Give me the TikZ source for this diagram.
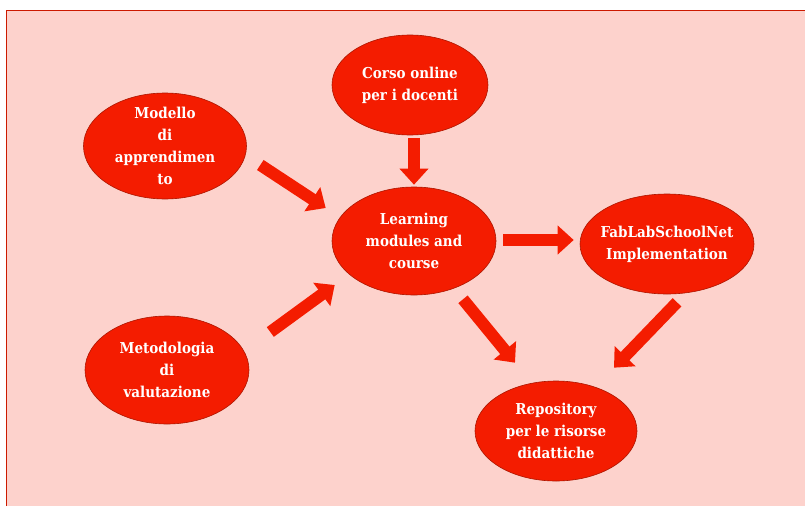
\documentclass[tikz,border=0pt]{standalone}
\usepackage{fontspec}
\newfontfamily\bubblefont{DejaVu Serif Condensed Bold}
\usetikzlibrary{shapes.geometric,arrows.meta}

\definecolor{bg}{HTML}{FDD2CC}
\definecolor{bubblered}{HTML}{F41C00}
\definecolor{edgered}{HTML}{CC1A00}

\begin{document}
\begin{tikzpicture}[x=1pt,y=-1pt,
    bubble/.style={ellipse,fill=bubblered,draw=edgered!85!black,line width=0.6pt,
      inner sep=0pt,text=white,align=center,
      font=\bubblefont\fontsize{15}{22}\selectfont},
    fatarrow/.style={draw=bubblered,line width=12pt,
      -{Triangle[width=28pt,length=16pt]}}]
    \useasboundingbox (0,0) rectangle (805,506);
    \fill[bg] (6,10) rectangle (805,506);
    \draw[edgered,line width=1pt] (6,506) -- (6,10) -- (805,10);

    \node[bubble,minimum width=163,minimum height=106,inner ysep=-8pt] (modello) at (165,146) {Modello\\di\\apprendimen\\to};
    \node[bubble,minimum width=156,minimum height=100] (corso)       at (410,85)  {Corso online\\per i docenti};
    \node[bubble,minimum width=164,minimum height=108] (learning)    at (414,241) {Learning\\modules and\\course};
    \node[bubble,minimum width=174,minimum height=100,inner xsep=-15pt] (fablab) at (667,244) {FabLabSchoolNet\\Implementation};
    \node[bubble,minimum width=164,minimum height=108] (metodologia) at (167,370) {Metodologia\\di\\valutazione};
    \node[bubble,minimum width=162,minimum height=100] (repository)  at (556,431) {Repository\\per le risorse\\didattiche};

    \draw[fatarrow] ([shift={(4,3)}]corso.south) -- ([shift={(0,-2)}]learning.north);
    \draw[fatarrow] ([shift={(13.5,19)}]modello.east) -- ([shift={(-6,-33)}]learning.west);
    \draw[fatarrow] ([shift={(21,-38)}]metodologia.east) -- ([shift={(3,44)}]learning.west);
    \draw[fatarrow] ([shift={(7,-1)}]learning.east) -- ([shift={(-6,-4)}]fablab.west);
    \draw[fatarrow] ([shift={(49,4)}]learning.south) -- ([shift={(-41,-18)}]repository.north);
    \draw[fatarrow] ([shift={(10,8)}]fablab.south) -- ([shift={(58,-13)}]repository.north);
\end{tikzpicture}
\end{document}
